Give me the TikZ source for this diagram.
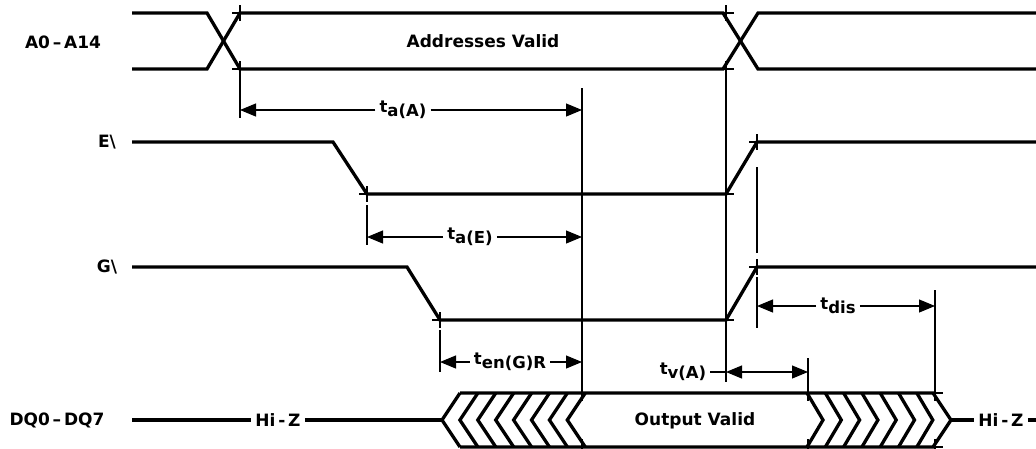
\documentclass[tikz,border=0pt]{standalone}
\usepackage{fontspec}
\setmainfont{DejaVu Sans}
\usetikzlibrary{arrows.meta}

\newcommand{\tsb}[1]{t\raisebox{-0.5ex}{#1}}

\begin{document}
\begin{tikzpicture}[x=1pt, y=-1pt,
    every node/.style={font=\bfseries\fontsize{16.5}{16.5}\selectfont, inner sep=4pt},
    siglabel/.style={font=\bfseries\fontsize{17}{17}\selectfont},
    bustext/.style={font=\bfseries\fontsize{17}{17}\selectfont},
    sig/.style={line width=3.3pt, line join=miter},
    thinline/.style={line width=1.1pt},
    dimarr/.style={thinline, -{Triangle[length=16pt,width=13pt]}},
    dimboth/.style={thinline, {Triangle[length=16pt,width=13pt]}-{Triangle[length=16pt,width=13pt]}}
  ]
    \useasboundingbox (0,0) rectangle (1036,448);

    % signal names
    \node[siglabel] (nA) at (63,42)  {A0\,--\,A14};
    \node[siglabel] (nE) at (107,142) {E\textbackslash};
    \node[siglabel] (nG) at (107,267) {G\textbackslash};
    \node[siglabel] (nDQ) at (57,420) {DQ0\,--\,DQ7};

    % address bus
    \draw[sig] (132,13) -- (207,13) -- (240,69) -- (723,69) -- (758,13) -- (1036,13);
    \draw[sig] (132,69) -- (207,69) -- (240,13) -- (723,13) -- (758,69) -- (1036,69);
    \node[bustext] (addr) at (483,41) {Addresses Valid};

    % E and G
    \draw[sig] (132,142) -- (333,142) -- (367,194) -- (726,194) -- (757,142) -- (1036,142);
    \draw[sig] (132,267) -- (407,267) -- (440,320) -- (726,320) -- (757,267) -- (1036,267);

    % data bus
    \node[siglabel] (hizL) at (278,420) {Hi\,-\,Z};
    \node[siglabel] (hizR) at (1001,420) {Hi\,-\,Z};
    \draw[sig] (132,420) -- (hizL);
    \draw[sig] (hizL) -- (442,420);
    \draw[sig] (460,393) -- (442,420) -- (460,447);
    \draw[sig] (460,393) -- (933,393) -- (951,420) -- (933,447) -- (460,447);
    \draw[sig] (951,420) -- (hizR);
    \draw[sig] (hizR) -- (1036,420);
    \foreach \k in {1,...,7}
        \draw[sig] ({442+\k*17.9+18},393) -- ({442+\k*17.9},420) -- ({442+\k*17.9+18},447);
    \foreach \k in {0,...,6}
        \draw[sig] ({807+\k*18.3},393) -- ({823+\k*18.3},420) -- ({807+\k*18.3},447);
    \node[bustext] (outv) at (695,421) {Output Valid};

    % transition marks
    \foreach \x/\y in {240/13, 240/69, 726/13, 726/69, 367/194, 726/194, 757/142,
                       440/320, 726/320, 757/267, 582/393, 582/447, 808/393, 808/447,
                       935/393, 935/447}
        \draw[thinline] (\x-8,\y) -- (\x+8,\y) (\x,\y-8) -- (\x,\y+8);

    % reference lines
    \draw[thinline] (240,69) -- (240,118);
    \draw[thinline] (582,88) -- (582,393);
    \draw[thinline] (726,77) -- (726,382);
    \draw[thinline] (757,167) -- (757,253);
    \draw[thinline] (757,277) -- (757,328);
    \draw[thinline] (367,205) -- (367,245);
    \draw[thinline] (440,330) -- (440,372);
    \draw[thinline] (808,358) -- (808,393);
    \draw[thinline] (935,290) -- (935,393);

    % timing arrows
    \coordinate (aAl) at (240,110);
    \coordinate (aAr) at (582,110);
    \node (taA) at (403,110) {\tsb{a(A)}};
    \draw[dimarr] (taA) -- (aAl);
    \draw[dimarr] (taA) -- (aAr);

    \coordinate (aEl) at (367,237);
    \coordinate (aEr) at (582,237);
    \node (taE) at (470,237) {\tsb{a(E)}};
    \draw[dimarr] (taE) -- (aEl);
    \draw[dimarr] (taE) -- (aEr);

    \coordinate (enl) at (440,362);
    \coordinate (enr) at (582,362);
    \node (ten) at (510,362) {\tsb{en(G)R}};
    \draw[dimarr] (ten) -- (enl);
    \draw[dimarr] (ten) -- (enr);

    \coordinate (vl) at (726,372);
    \coordinate (vr) at (808,372);
    \node (tv) at (683,372) {\tsb{v(A)}};
    \draw[thinline] (tv) -- (vl);
    \draw[dimboth] (vl) -- (vr);

    \coordinate (disl) at (757,306);
    \coordinate (disr) at (935,306);
    \node (tdis) at (838,306) {\tsb{dis}};
    \draw[dimarr] (tdis) -- (disl);
    \draw[dimarr] (tdis) -- (disr);
\end{tikzpicture}
\end{document}
